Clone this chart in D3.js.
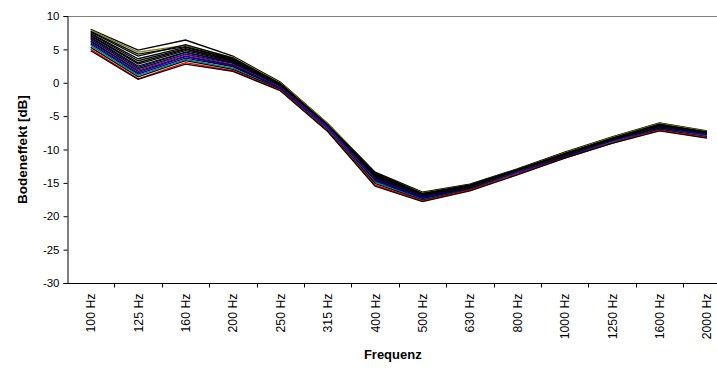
<!DOCTYPE html>
<html>
<head>
<meta charset="utf-8">
<script src="https://cdn.jsdelivr.net/npm/d3@7"></script>
<style>
  html, body { margin: 0; padding: 0; background: #fff; }
  svg { display: block; font-family: "Liberation Sans", Arial, sans-serif; }
</style>
</head>
<body>
<svg id="chart" width="717" height="370"></svg>
<script>
const categories = ["100 Hz","125 Hz","160 Hz","200 Hz","250 Hz","315 Hz","400 Hz","500 Hz","630 Hz","800 Hz","1000 Hz","1250 Hz","1600 Hz","2000 Hz"];
const yTicks = [10, 5, 0, -5, -10, -15, -20, -25, -30];

const s1  = [8.0, 4.9, 6.4, 4.0,  0.1, -6.1, -13.4, -16.4, -15.2, -12.9, -10.4, -8.1, -6.0, -7.2];
const s2  = [7.9, 4.6, 5.6, 3.8,  0.0, -6.1, -13.6, -16.5, -15.3, -13.0, -10.5, -8.2, -6.1, -7.3];
const s3  = [7.7, 4.3, 5.4, 3.6, -0.1, -6.3, -13.5, -16.6, -15.3, -13.0, -10.6, -8.3, -6.2, -7.4];
const s4  = [7.6, 4.0, 5.7, 3.7, -0.2, -6.4, -13.7, -16.6, -15.4, -13.1, -10.6, -8.4, -6.3, -7.4];
const s5  = [7.4, 3.6, 5.3, 3.5, -0.3, -6.5, -13.8, -16.7, -15.4, -13.1, -10.7, -8.4, -6.4, -7.5];
const s6  = [7.3, 3.3, 5.1, 3.4, -0.3, -6.4, -13.9, -16.8, -15.5, -13.2, -10.7, -8.5, -6.4, -7.5];
const s7  = [7.1, 3.0, 5.0, 3.3, -0.4, -6.6, -14.0, -16.8, -15.5, -13.2, -10.8, -8.5, -6.5, -7.6];
const s8  = [7.0, 2.8, 4.8, 3.2, -0.5, -6.5, -14.1, -16.9, -15.6, -13.3, -10.8, -8.6, -6.5, -7.6];
const s9  = [6.8, 2.5, 4.6, 3.1, -0.5, -6.7, -14.2, -17.0, -15.6, -13.3, -10.9, -8.6, -6.6, -7.7];
const s10 = [6.7, 2.3, 4.5, 3.0, -0.6, -6.6, -14.3, -17.0, -15.7, -13.4, -10.9, -8.7, -6.6, -7.7];
const s11 = [6.5, 2.1, 4.3, 2.9, -0.6, -6.8, -14.4, -17.1, -15.7, -13.4, -11.0, -8.7, -6.7, -7.8];
const s12 = [6.3, 1.9, 4.2, 2.7, -0.7, -6.7, -14.5, -17.2, -15.8, -13.4, -11.0, -8.8, -6.8, -7.8];
const s13 = [6.2, 1.7, 4.0, 2.6, -0.8, -6.9, -14.6, -17.2, -15.8, -13.5, -11.0, -8.8, -6.8, -7.9];
const s14 = [6.0, 1.5, 3.9, 2.5, -0.8, -6.8, -14.7, -17.3, -15.9, -13.5, -11.1, -8.8, -6.9, -7.9];
const s15 = [5.8, 1.3, 3.7, 2.4, -0.9, -7.0, -14.8, -17.4, -15.9, -13.6, -11.1, -8.9, -6.9, -8.0];
const s16 = [5.6, 1.1, 3.5, 2.2, -1.0, -7.0, -14.9, -17.5, -16.0, -13.6, -11.2, -8.9, -7.0, -8.0];
const s17 = [5.3, 0.9, 3.3, 2.0, -1.0, -7.1, -15.1, -17.6, -16.0, -13.7, -11.2, -9.0, -7.0, -8.1];
const s18 = [5.0, 0.6, 3.0, 1.8, -1.1, -7.2, -15.3, -17.7, -16.1, -13.7, -11.3, -9.0, -7.1, -8.2];
const s19 = [4.8, 0.5, 2.8, 1.7, -1.2, -7.3, -15.5, -17.8, -16.2, -13.8, -11.3, -9.1, -7.2, -8.3];

const seriesList = [s1, s2, s3, s4, s5, s6, s7, s8, s9, s10, s11, s12, s13, s14, s15, s16, s17, s18, s19];
const seriesColors = ["#000000","#808000","#000000","#000000","#000000","#000000","#000000","#000000","#000000","#000080",
                      "#000000","#800080","#000000","#0000FF","#000000","#008080","#000000","#FF0000","#000000"];

const svg = d3.select("#chart");
const plotLeft = 67, plotTop = 16, plotBottom = 283, bandW = 47.4;
const plotRight = plotLeft + bandW * categories.length;

const x = d3.scaleBand().domain(categories).range([plotLeft, plotRight]).padding(0);
const y = d3.scaleLinear().domain([-30, 10]).range([plotBottom, plotTop]);

// plot area border (top edge visible)
svg.append("line").attr("x1", plotLeft).attr("x2", plotRight).attr("y1", plotTop + 0.5).attr("y2", plotTop + 0.5)
  .attr("stroke", "#808080").attr("stroke-width", 1);

// lines
const line = d3.line()
  .x((d, i) => x(categories[i]) + x.bandwidth() / 2)
  .y(d => y(d));

svg.append("g").selectAll("path").data(seriesList).join("path")
  .attr("d", line)
  .attr("fill", "none")
  .attr("stroke", (d, i) => seriesColors[i])
  .attr("stroke-width", 1.3);

// y axis
const yAxis = d3.axisLeft(y).tickValues(yTicks).tickSize(4).tickPadding(4).tickFormat(d3.format("d"));
const gy = svg.append("g").attr("transform", `translate(${plotLeft + 0.5},0)`).call(yAxis);
gy.select(".domain").attr("stroke", "#000");
gy.selectAll(".tick line").attr("stroke", "#000");
gy.selectAll("text").attr("font-size", 11.5).attr("fill", "#000")
  .attr("font-family", "'Liberation Sans', Arial, sans-serif")
  .text(d => d < 0 ? "-" + Math.abs(d) : d);

// x axis
const gx = svg.append("g").attr("transform", `translate(0,${plotBottom + 0.5})`);
gx.append("line").attr("x1", plotLeft).attr("x2", plotRight).attr("stroke", "#000");
const boundaries = categories.map(c => x(c) + x.bandwidth());
gx.selectAll("line.tk").data(boundaries).join("line").attr("class", "tk")
  .attr("x1", d => Math.round(d) + 0.5).attr("x2", d => Math.round(d) + 0.5)
  .attr("y1", 0).attr("y2", 4).attr("stroke", "#000");
gx.selectAll("text").data(categories).join("text")
  .attr("transform", d => `translate(${x(d) + x.bandwidth() / 2 + 4.5},${10}) rotate(-90)`)
  .attr("text-anchor", "end")
  .attr("font-size", 12.3)
  .attr("font-family", "'Liberation Sans', Arial, sans-serif")
  .attr("fill", "#000")
  .text(d => d);

// axis titles
svg.append("text")
  .attr("x", (plotLeft + plotRight) / 2 - 6).attr("y", 359)
  .attr("text-anchor", "middle").attr("font-weight", "bold").attr("font-size", 13)
  .text("Frequenz");

svg.append("text")
  .attr("transform", `translate(27,${(plotTop + plotBottom) / 2}) rotate(-90)`)
  .attr("text-anchor", "middle").attr("font-weight", "bold").attr("font-size", 13.5)
  .text("Bodeneffekt [dB]");
</script>
</body>
</html>
